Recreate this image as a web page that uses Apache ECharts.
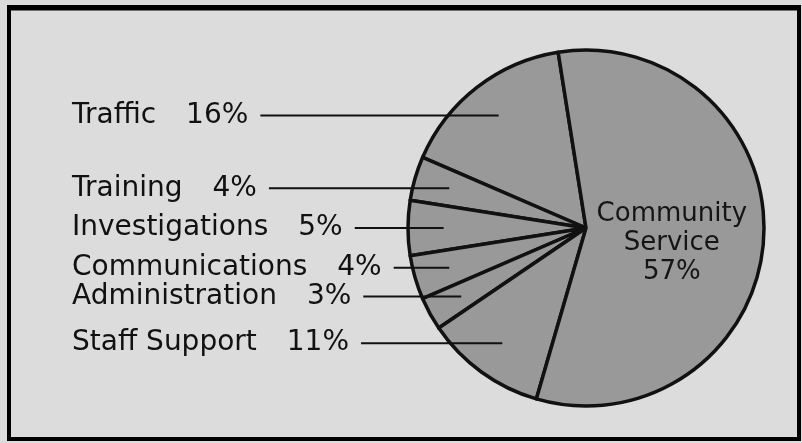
<!DOCTYPE html>
<html><head><meta charset="utf-8">
<script src="https://cdn.jsdelivr.net/npm/echarts@6/dist/echarts.min.js"></script>
<style>html,body{margin:0;padding:0;background:#dcdcdc}#c{width:802px;height:443px}</style>
</head><body><div id="c"></div>
<script>
const categories = ['Traffic', 'Training', 'Investigations', 'Communications', 'Administration', 'Staff Support', 'Community Service'];
const shares = [16, 4, 5, 4, 3, 11, 57];
const shareLabels = ['16%', '4%', '5%', '4%', '3%', '11%', '57%'];

const chart = echarts.init(document.getElementById('c'), null, { renderer: 'canvas' });
const CX = 586, CY = 228, R = 178, START = 99;
const FONT = 'DejaVu Sans';
const total = shares.reduce((a, b) => a + b, 0);
const last = categories.length - 1;
const LABEL_X = 72;

function midPoint(i, k) {
  let cum = 0;
  for (let j = 0; j < i; j++) cum += shares[j];
  const a = (-START - (cum + shares[i] / 2) / total * 360) * Math.PI / 180;
  return [CX + k * R * Math.cos(a), CY + k * R * Math.sin(a)];
}

const sliceData = categories.map((n, i) => ({ name: n, value: shares[i] }));

const labelData = categories.map((n, i) => {
  const d = { name: n, value: shares[i] };
  if (i === last) {
    d.label = {
      position: 'inside',
      formatter: n.replace(' ', '\n') + '\n' + shareLabels[i],
      fontFamily: FONT, fontSize: 26, lineHeight: 29, color: '#151515', align: 'center',
      offset: [-6, 9]
    };
    d.labelLine = { show: false };
  }
  return d;
});

const common = {
  type: 'pie',
  center: [CX, CY],
  radius: R,
  startAngle: START,
  clockwise: false,
  avoidLabelOverlap: false,
  silent: true,
  emphasis: { disabled: true }
};

const option = {
  backgroundColor: '#dcdcdc',
  animation: false,
  graphic: [
    { type: 'rect', shape: { x: 9, y: 7, width: 790, height: 432 }, style: { fill: null, stroke: '#000', lineWidth: 4 } },
    { type: 'line', shape: { x1: 7, y1: 8, x2: 801, y2: 8 }, style: { stroke: '#000', lineWidth: 5 } }
  ],
  series: [
    Object.assign({}, common, {
      z: 2,
      itemStyle: { color: '#999999', borderColor: '#111', borderWidth: 3.5 },
      label: { show: false },
      labelLine: { show: false },
      data: sliceData
    }),
    Object.assign({}, common, {
      z: 5,
      itemStyle: { color: 'rgba(0,0,0,0)', borderWidth: 0 },
      label: {
        show: true,
        position: 'outside',
        color: '#111',
        fontFamily: FONT,
        fontSize: 28,
        formatter: p => '{n|' + p.name + '}{p|' + shareLabels[p.dataIndex] + '}',
        rich: {
          n: { fontFamily: FONT, fontSize: 28, color: '#111' },
          p: { fontFamily: FONT, fontSize: 28, color: '#111', padding: [0, 0, 0, 30] }
        }
      },
      labelLine: { show: true, lineStyle: { color: '#111', width: 2 } },
      labelLayout: function (params) {
        const i = params.dataIndex;
        if (i === last) return {};
        const pt = midPoint(i, 0.8);
        const w = params.labelRect.width;
        const sx = LABEL_X + w + 12;
        return {
          x: LABEL_X, y: pt[1], align: 'left', verticalAlign: 'middle',
          labelLinePoints: [[sx, pt[1]], [(sx + pt[0]) / 2, pt[1]], [pt[0], pt[1]]]
        };
      },
      data: labelData
    })
  ]
};
chart.setOption(option);
</script>
</body></html>
